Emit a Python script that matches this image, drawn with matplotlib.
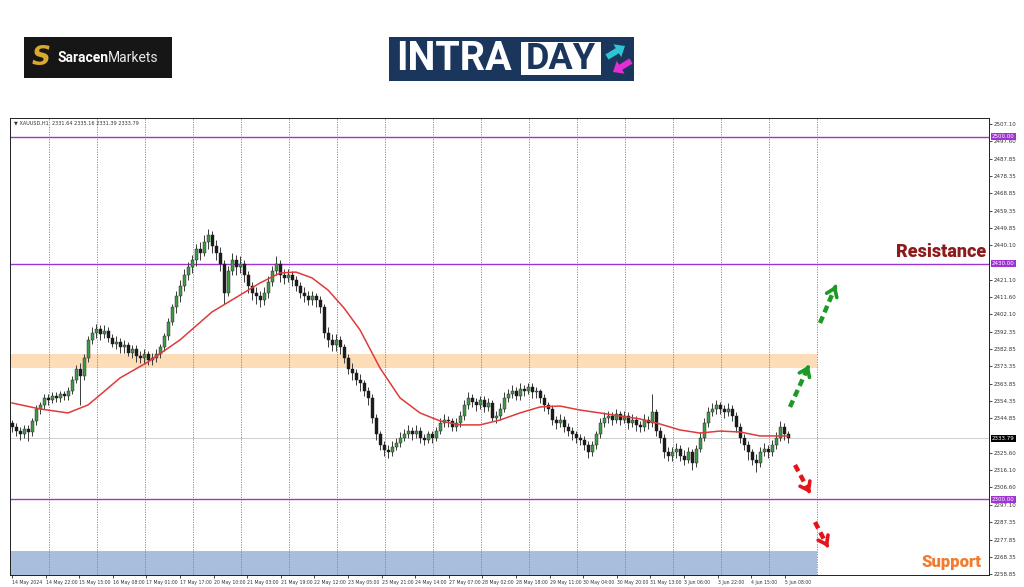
import matplotlib
matplotlib.use("Agg")
import matplotlib.pyplot as plt
from matplotlib.patches import Rectangle, FancyArrow
from matplotlib.transforms import Affine2D, blended_transform_factory

# ---------------- data ----------------
closes = [2340,2338,2336,2339,2337,2343,2350,2352,2356,2355,
          2357,2356,2358,2357,2360,2366,2372,2368,2378,2388,
          2392,2394,2391,2393,2389,2386,2387,2384,2385,2381,
          2383,2379,2378,2380,2377,2378,2380,2384,2390,2398,
          2406,2412,2418,2424,2428,2432,2438,2436,2442,2446,
          2440,2436,2430,2414,2426,2432,2428,2430,2424,2418,
          2414,2412,2410,2414,2420,2426,2430,2424,2422,2424,
          2421,2418,2414,2412,2410,2412,2410,2406,2392,2388,
          2385,2388,2384,2378,2372,2370,2366,2364,2360,2356,
          2345,2336,2330,2327,2326,2329,2331,2334,2336,2338,
          2336,2338,2334,2333,2336,2334,2338,2342,2344,2343,
          2340,2342,2346,2352,2356,2354,2352,2355,2351,2353,
          2345,2346,2350,2356,2358,2360,2357,2361,2360,2362,
          2359,2360,2356,2352,2350,2344,2342,2344,2340,2338,
          2336,2334,2333,2330,2326,2330,2336,2342,2345,2346,
          2344,2347,2344,2346,2342,2344,2341,2340,2344,2342,
          2348,2338,2334,2326,2324,2326,2328,2324,2322,2326,
          2320,2328,2334,2342,2348,2350,2352,2350,2348,2350,
          2346,2340,2334,2330,2326,2322,2320,2326,2328,2326,
          2330,2334,2340,2336,2333.79]
highs = [2344,2342,2340,2341,2341,2345,2352,2354,2358,2358,
         2359,2359,2360,2360,2362,2368,2374,2375,2380,2390,
         2395,2397,2396,2396,2395,2391,2390,2389,2388,2387,
         2385,2385,2382,2383,2382,2381,2383,2386,2392,2400,
         2408,2415,2421,2427,2431,2435,2441,2442,2446,2449,
         2448,2443,2439,2432,2429,2436,2435,2434,2432,2426,
         2420,2417,2415,2417,2423,2429,2434,2432,2427,2427,
         2426,2423,2420,2417,2415,2415,2414,2412,2408,2395,
         2391,2391,2390,2386,2380,2375,2372,2369,2366,2362,
         2358,2347,2338,2332,2330,2332,2334,2337,2339,2341,
         2340,2341,2340,2336,2338,2338,2340,2345,2347,2346,
         2345,2345,2349,2355,2359,2358,2356,2357,2357,2356,
         2355,2349,2353,2359,2361,2363,2362,2364,2363,2364,
         2364,2362,2361,2358,2354,2352,2346,2347,2346,2342,
         2340,2338,2336,2335,2332,2332,2338,2345,2348,2349,
         2348,2350,2349,2349,2348,2347,2346,2343,2347,2346,
         2358,2350,2340,2336,2329,2329,2331,2330,2327,2329,
         2328,2330,2337,2345,2351,2353,2355,2354,2352,2353,
         2352,2348,2342,2336,2332,2328,2325,2329,2331,2330,
         2333,2337,2343,2342,2338]
lows = [2337,2335,2333,2334,2332,2335,2341,2347,2350,2352,
        2353,2354,2354,2355,2355,2358,2364,2352,2366,2376,
        2386,2389,2388,2389,2387,2384,2383,2381,2381,2379,
        2378,2376,2375,2375,2374,2374,2376,2378,2382,2388,
        2396,2403,2409,2415,2421,2425,2429,2432,2434,2438,
        2436,2432,2426,2408,2412,2424,2424,2425,2420,2414,
        2410,2408,2406,2407,2411,2418,2424,2420,2419,2420,
        2418,2415,2411,2409,2407,2407,2406,2403,2389,2384,
        2382,2382,2380,2375,2369,2366,2363,2360,2357,2352,
        2342,2333,2327,2324,2323,2324,2327,2329,2332,2334,
        2333,2334,2331,2330,2331,2331,2332,2336,2340,2340,
        2338,2338,2340,2344,2350,2351,2349,2350,2348,2349,
        2343,2342,2344,2348,2354,2356,2355,2355,2357,2358,
        2356,2356,2353,2349,2347,2341,2339,2340,2337,2335,
        2333,2331,2330,2327,2323,2324,2328,2334,2340,2342,
        2341,2342,2341,2342,2339,2340,2338,2337,2338,2339,
        2340,2335,2331,2323,2321,2321,2323,2321,2319,2320,
        2316,2318,2326,2332,2340,2346,2347,2347,2345,2346,
        2343,2337,2331,2327,2322,2319,2315,2318,2324,2323,
        2324,2328,2332,2333,2331]
first_open = 2342
opens = [first_open] + closes[:-1]

ma_idx = [0,7,14,19,22,27,34,42,50,57,62,67,71,75,79,83,87,92,97,102,107,112,
          117,122,127,132,137,142,147,152,157,162,167,172,177,182,187,194]
ma_val = [2353.2,2349.9,2347.7,2352.1,2357.6,2367.0,2375.8,2388.0,2403.4,2412.7,
          2419.4,2424.9,2425.4,2422.2,2415.5,2405.6,2393.5,2372.5,2356.0,2347.7,
          2343.3,2341.1,2341.1,2343.8,2347.7,2351.0,2351.5,2349.3,2347.7,2346.0,
          2344.4,2341.6,2338.3,2336.6,2337.7,2337.2,2335.0,2335.0]

ytick_vals = [2507.10,2497.60,2487.85,2478.35,2468.85,2459.35,2449.85,2440.10,
              2421.10,2411.60,2402.10,2392.35,2382.85,2373.35,2363.85,2354.35,
              2344.85,2325.60,2316.10,2306.60,2297.10,2287.35,2277.85,2268.35,2258.85]
xtick_labels = ["14 May 2024","14 May 22:00","15 May 15:00","16 May 08:00","17 May 01:00",
                "17 May 17:00","20 May 10:00","21 May 03:00","21 May 19:00","22 May 12:00",
                "23 May 05:00","23 May 21:00","24 May 14:00","27 May 07:00","28 May 02:00",
                "28 May 18:00","29 May 11:00","30 May 04:00","30 May 20:00","31 May 13:00",
                "3 Jun 06:00","3 Jun 22:00","4 Jun 15:00","5 Jun 08:00"]
levels = [2500.00, 2430.00, 2300.00]
last_price = 2333.79
demand_zone = (2372.5, 2380.2)
support_zone = (2258.3, 2271.5)

# ---------------- figure ----------------
W, H = 1024, 587
fig = plt.figure(figsize=(W / 100, H / 100), dpi=100)
fig.patch.set_facecolor('white')
pxT = Affine2D().scale(1 / W, -1 / H).translate(0, 1) + fig.transFigure

ax = fig.add_axes([10 / W, 1 - 575 / H, 979 / W, 457 / H])
ax.set_xlim(-0.5, 244.25)
ax.set_ylim(2258.3, 2510.4)
ax.set_facecolor('white')

purple = '#a034d0'

# grid (vertical dashed)
for k in range(17):
    ax.axvline(9.25 + 12 * k, color='#808080', lw=0.6, ls=(0, (1.5, 1.5)), zorder=1)

# zones
ax.add_patch(Rectangle((-0.5, demand_zone[0]), 201.75, demand_zone[1] - demand_zone[0],
                       facecolor='#fddcb8', edgecolor='none', zorder=0.5))
ax.add_patch(Rectangle((-0.5, support_zone[0]), 201.75, support_zone[1] - support_zone[0],
                       facecolor='#a9bedc', edgecolor='none', zorder=0.5))

# level lines
for lv in levels:
    ax.axhline(lv, color=purple, lw=1.0, zorder=2)
ax.axhline(last_price, color='#c8c8c8', lw=0.6, zorder=1.5)

# candles
bw = 0.75
for i, (o, h, l, c) in enumerate(zip(opens, highs, lows, closes)):
    ax.vlines(i, l, h, color='#3a3a3a', lw=0.7, zorder=3)
    bull = c >= o
    ax.add_patch(Rectangle((i - bw / 2, min(o, c)), bw, max(abs(c - o), 0.3),
                           facecolor='#3e9a44' if bull else '#1c1c1c',
                           edgecolor='#202020', lw=0.3, zorder=4))

# moving average
ax.plot(ma_idx, ma_val, color='#e03a3a', lw=1.1, zorder=5)

# ticks
ax.yaxis.tick_right()
ax.set_yticks(ytick_vals)
ax.set_yticklabels([f"{v:.2f}" for v in ytick_vals])
ax.tick_params(axis='y', length=2, width=0.5, pad=1.5, labelsize=4, labelcolor='#333333')
xt = [8.4 * k for k in range(len(xtick_labels))]
ax.set_xticks(xt)
ax.set_xticklabels(xtick_labels)
for lab in ax.get_xticklabels():
    lab.set_ha('left')
ax.tick_params(axis='x', length=2, width=0.5, pad=1.5, labelsize=3.3, labelcolor='#333333')
for s in ax.spines.values():
    s.set_color('#202020')
    s.set_linewidth(0.7)

bt = blended_transform_factory(ax.transAxes, ax.transData)
for val, col in [(2500.00, purple), (2430.00, purple), (2300.00, purple), (last_price, 'black')]:
    ax.text(1.003, val, f"{val:.2f}", transform=bt, fontsize=4, color='white', va='center',
            ha='left', clip_on=False, zorder=10,
            bbox=dict(boxstyle='square,pad=0.2', fc=col, ec='none'))

# header
fig.text(14, 123, "\u25BC XAUUSD,H1  2331.64 2335.16 2331.39 2333.79", transform=pxT,
         fontsize=3.6, color='#333333', va='center', ha='left')

# scenario arrows
def arrow(p0, p1, col):
    (x0, y0), (x1, y1) = p0, p1
    ax.plot([x0, x0 + (x1 - x0) * 0.9], [y0, y0 + (y1 - y0) * 0.9], color=col, lw=3.2,
            ls=(0, (1.6, 1.0)), solid_capstyle='butt', zorder=6, clip_on=False)
    ax.annotate('', xy=(x1, y1), xytext=(x0 + (x1 - x0) * 0.85, y0 + (y1 - y0) * 0.85),
                arrowprops=dict(arrowstyle='->,head_length=0.55,head_width=0.4', lw=2.6,
                                color=col), zorder=6, annotation_clip=False)

green, red = '#1d9a24', '#e5141a'
arrow((194.5, 2351.0), (199.5, 2375.3), green)
arrow((202.0, 2397.3), (206.25, 2419.4), green)
arrow((195.75, 2319.0), (199.5, 2303.5), red)
arrow((200.75, 2287.5), (204.0, 2273.7), red)

# labels
fig.text(941, 252, "Resistance", transform=pxT, fontsize=13, fontweight='black',
         family='Roboto', color='#8e1b1b', ha='center', va='center')
fig.text(952, 562, "Support", transform=pxT, fontsize=12, fontweight='black',
         family='Roboto', color='#f27b2c', ha='center', va='center')

# Saracen logo
fig.patches.append(Rectangle((24, 37), 148, 41, transform=pxT, facecolor='#161616',
                             edgecolor='none', figure=fig))
fig.text(41, 58, "S", transform=pxT, fontsize=19, fontweight='heavy', style='italic',
         color='#d9a82e', ha='center', va='center')
t1 = fig.text(57, 58, "Saracen", transform=pxT, fontsize=10, fontweight='bold', family='Roboto',
              color='white', ha='left', va='center')
fig.canvas.draw()
bb = t1.get_window_extent()
fig.text(bb.x1 / W, 1 - 58 / H, "Markets", fontsize=10, family='Roboto',
         color='#e8e8e8', ha='left', va='center')

# INTRADAY logo
navy = '#1b365d'
fig.patches.append(Rectangle((389, 37), 245, 44, transform=pxT, facecolor=navy,
                             edgecolor='none', figure=fig))
fig.patches.append(Rectangle((521, 42), 80, 33, transform=pxT, facecolor='white',
                             edgecolor='none', figure=fig))
fig.text(396, 59, "INTRA", transform=pxT, fontsize=28.5, fontweight='bold', family='Roboto',
         color='white', ha='left', va='center')
fig.text(561, 59, "DAY", transform=pxT, fontsize=26, fontweight='bold', family='Roboto',
         color=navy, ha='center', va='center')
fig.patches.append(FancyArrow(607, 57, 18, -11, width=6, head_width=15, head_length=9,
                              length_includes_head=True, transform=pxT, facecolor='#2ec4d4',
                              edgecolor='none', figure=fig))
fig.patches.append(FancyArrow(631, 61, -18, 11, width=6, head_width=15, head_length=9,
                              length_includes_head=True, transform=pxT, facecolor='#e22ed2',
                              edgecolor='none', figure=fig))

fig.savefig("out.png", dpi=100, facecolor='white')
